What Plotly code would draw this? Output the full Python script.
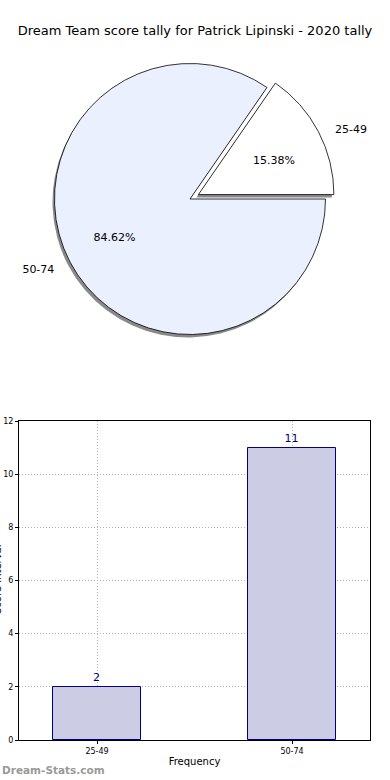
import plotly.graph_objects as go

title = "Dream Team score tally for Patrick Lipinski - 2020 tally"
categories = ["25-49", "50-74"]
counts = [2, 11]
pie_colors = ["#FFFFFF", "#EAF0FD"]
pulls = [0.07, 0]
start_angle = 90 - 360 * counts[0] / sum(counts)  # first slice ends at 3 o'clock

W, H = 390, 780
FONT = "DejaVu Sans"

fig = go.Figure()

def px_dom_x(a, b):
    return [a / W, b / W]

def px_dom_y(top, bottom):
    return [1 - bottom / H, 1 - top / H]

# pie geometry (pixels)
cx, cy, r = 190, 199, 145
rl = 160     # outer ring carrying the category labels
rp = 67.5    # inner ring carrying the percentages
pp = 0.164   # pull of the inner ring (same pixel offset as the main pie)

common = dict(labels=categories, values=counts, sort=False, direction="clockwise",
              rotation=start_angle, showlegend=False)
clear = dict(colors=["rgba(0,0,0,0)", "rgba(0,0,0,0)"], line=dict(width=0))

# shadow pie
fig.add_trace(go.Pie(
    **common, pull=pulls,
    marker=dict(colors=["#8a8a8a", "#8a8a8a"], line=dict(width=0)),
    textinfo="none", hoverinfo="skip",
    domain=dict(x=px_dom_x(cx - r - 2, cx + r - 2), y=px_dom_y(cy - r + 3, cy + r + 3)),
))
# main pie
fig.add_trace(go.Pie(
    **common, pull=pulls,
    marker=dict(colors=pie_colors, line=dict(color="#000000", width=0.8)),
    textinfo="none",
    domain=dict(x=px_dom_x(cx - r, cx + r), y=px_dom_y(cy - r, cy + r)),
))


def text_ring(i, template, radius, pull_list, dy):
    tpl = ["" for _ in categories]
    tpl[i] = template
    fig.add_trace(go.Pie(
        **common, pull=pull_list, marker=clear,
        texttemplate=tpl, textposition="outside",
        textfont=dict(family=FONT, size=11, color="#000000"),
        hoverinfo="skip",
        domain=dict(x=px_dom_x(cx - radius, cx + radius),
                    y=px_dom_y(cy - radius + dy, cy + radius + dy)),
    ))


inner_pulls = [pp if p else 0 for p in pulls]
# percentages (matplotlib autopct style, ~0.6 radius)
text_ring(0, "%{percent:.2%}", rp, inner_pulls, -6)
text_ring(1, "%{percent:.2%}", rp, inner_pulls, 10)
# category labels outside
text_ring(0, "%{label}", rl, pulls, 6)
text_ring(1, "%{label}", rl, pulls, 0)

# bar chart
fig.add_trace(go.Bar(
    x=categories, y=counts, width=0.45,
    marker=dict(color="#CCCCE5", line=dict(color="#000080", width=1)),
    text=[str(c) for c in counts], textposition="outside",
    textfont=dict(family=FONT, size=11, color="#000080"),
    cliponaxis=False, showlegend=False, xaxis="x", yaxis="y",
))

fig.update_layout(
    width=W, height=H,
    margin=dict(l=0, r=0, t=0, b=0, autoexpand=False),
    paper_bgcolor="white", plot_bgcolor="white",
    font=dict(family=FONT, color="#000000"),
    title=dict(text=title, x=0.5, xanchor="center", y=1 - 30 / H, yanchor="middle",
               font=dict(family=FONT, size=13, color="#000000")),
    xaxis=dict(domain=px_dom_x(19, 370), range=[-0.4, 1.4],
               showline=True, linecolor="#000000", linewidth=1, mirror=True,
               showgrid=True, gridcolor="#b0b0b0", griddash="1px,2px", gridwidth=1,
               ticks="outside", ticklen=3, tickcolor="#000000",
               tickfont=dict(family=FONT, size=8), automargin=False,
               title=dict(text="Frequency", font=dict(family=FONT, size=10), standoff=3),
               anchor="y"),
    yaxis=dict(domain=px_dom_y(421, 740), range=[0, 12], dtick=2,
               showline=True, linecolor="#000000", linewidth=1, mirror=True,
               showgrid=True, gridcolor="#b0b0b0", griddash="1px,2px", gridwidth=1,
               zeroline=False,
               ticks="outside", ticklen=3, tickcolor="#000000",
               tickfont=dict(family=FONT, size=8), automargin=False,
               anchor="x"),
    bargap=0,
)

# clipped y-axis title (mostly outside the image, as in the reference)
fig.add_annotation(text="Score Interval", xref="paper", yref="paper",
                   x=-3 / W, y=1 - 580 / H, textangle=-90, showarrow=False,
                   xanchor="center", yanchor="middle",
                   font=dict(family=FONT, size=10, color="#000000"))

fig.add_annotation(text="<b>Dream-Stats.com</b>", xref="paper", yref="paper",
                   x=0, y=1 - 770 / H, xanchor="left", yanchor="middle", showarrow=False,
                   font=dict(family=FONT, size=10.5, color="#9a9a9a"))

fig.write_html("out.html", config={"displayModeBar": False},
               post_script="document.body.style.margin='0';")
